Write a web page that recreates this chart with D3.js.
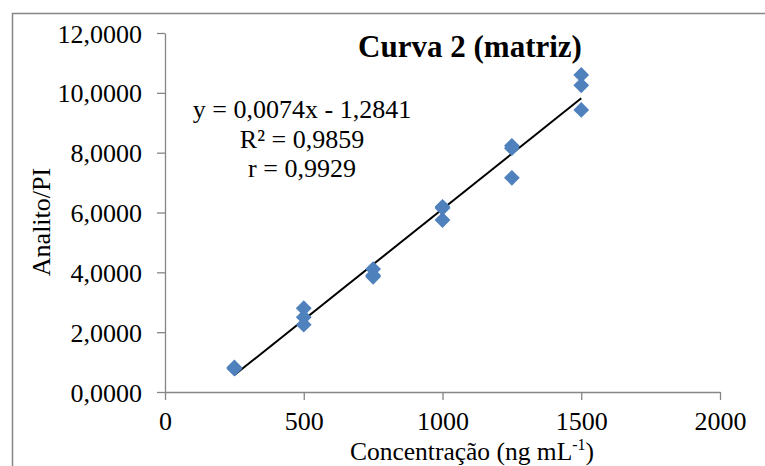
<!DOCTYPE html>
<html lang="pt">
<head>
<meta charset="UTF-8" />
<title>Curva 2 (matriz)</title>
<script src="https://d3js.org/d3.v7.min.js"></script>
<style>
  html, body { margin: 0; background: #fff; }
  svg { font-family: "Liberation Serif", "Times New Roman", serif; }
  .axis path, .axis line { stroke: #868686; stroke-width: 1.3px; }
  .axis text { fill: #000; font-size: 26px; font-family: "Liberation Serif", serif; }
</style>
</head>
<body>
<svg id="chart" width="765" height="466"></svg>
<script>
// concentration levels (ng mL-1), three replicates each
const concentrations = [250, 250, 250, 500, 500, 500, 750, 750, 750, 1000, 1000, 1000, 1250, 1250, 1250, 1500, 1500, 1500];
const ratios = [0.80, 0.78, 0.82, 2.80, 2.50, 2.25, 4.11, 3.85, 3.90, 6.19, 5.75, 6.15, 8.23, 8.15, 7.16, 10.60, 10.25, 9.43];

const xTicks = [0, 500, 1000, 1500, 2000];
const yTicks = [0, 2, 4, 6, 8, 10, 12];

const slope = 0.0074;
const intercept = -1.2841;
const fitRange = [250, 1500];

const title = 'Curva 2 (matriz)';
const eqLines = ['y = 0,0074x - 1,2841', 'R² = 0,9859', 'r = 0,9929'];

const svg = d3.select('#chart');

// chart area border (only top and left are inside the picture)
svg.append('rect')
  .attr('x', 12.5).attr('y', 13.5)
  .attr('width', 800).attr('height', 500)
  .attr('fill', 'none').attr('stroke', '#868686').attr('stroke-width', 1.5);

const x = d3.scaleLinear().domain([0, 2000]).range([165, 720]);
const y = d3.scaleLinear().domain([0, 12]).range([392, 33]);

const ptBr = d3.formatLocale({ decimal: ',', thousands: '.', grouping: [3], currency: ['', ''] });
const fmtY = ptBr.format('.4f');

svg.append('g')
  .attr('class', 'axis')
  .attr('transform', `translate(0,${y(0)})`)
  .call(d3.axisBottom(x).tickValues(xTicks).tickFormat(d3.format('d')).tickSize(8).tickSizeOuter(0))
  .call(g => g.selectAll('text').attr('dy', 0).attr('y', 38));

svg.append('g')
  .attr('class', 'axis')
  .attr('transform', `translate(${x(0)},0)`)
  .call(d3.axisLeft(y).tickValues(yTicks).tickFormat(fmtY).tickSize(8).tickSizeOuter(0).tickPadding(15))
  .call(g => g.selectAll('text').attr('dy', '0.35em'));

// trend line
svg.append('line')
  .attr('x1', x(fitRange[0])).attr('y1', y(slope * fitRange[0] + intercept))
  .attr('x2', x(fitRange[1])).attr('y2', y(slope * fitRange[1] + intercept))
  .attr('stroke', '#000').attr('stroke-width', 2);

// markers (diamonds)
const diamond = d3.symbol().type(d3.symbolSquare).size(125);
svg.append('g')
  .selectAll('path')
  .data(concentrations)
  .join('path')
  .attr('d', diamond)
  .attr('transform', (d, i) => `translate(${x(d)},${y(ratios[i])}) rotate(45)`)
  .attr('fill', '#4F81BD');

// title
svg.append('text')
  .attr('x', 470).attr('y', 57)
  .attr('text-anchor', 'middle')
  .attr('font-size', 31).attr('font-weight', 'bold')
  .text(title);

// equation label
svg.append('g')
  .selectAll('text')
  .data(eqLines)
  .join('text')
  .attr('x', 302)
  .attr('y', (d, i) => [118, 148, 177][i])
  .attr('text-anchor', 'middle')
  .attr('font-size', 26)
  .text(d => d);

// axis titles
const xt = svg.append('text')
  .attr('x', 472).attr('y', 460)
  .attr('text-anchor', 'middle')
  .attr('font-size', 25.5);
xt.append('tspan').text('Concentração (ng mL');
xt.append('tspan').attr('font-size', 16).attr('dy', -10).text('-1');
xt.append('tspan').attr('dy', 10).text(')');

svg.append('text')
  .attr('transform', 'translate(50,222) rotate(-90)')
  .attr('text-anchor', 'middle')
  .attr('font-size', 26)
  .text('Analito/PI');
</script>
</body>
</html>
